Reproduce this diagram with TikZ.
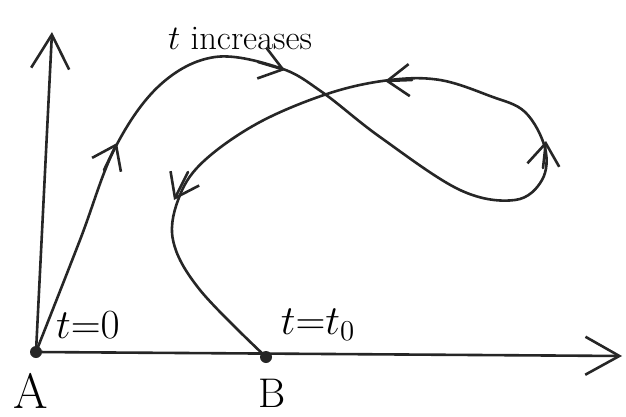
\documentclass[tikz,border=0pt]{standalone}
\usetikzlibrary{arrows.meta}
\tikzset{
  sketch/.style={line width=1.3pt, draw=black!85, line cap=round, line join=round},
  barb/.style={sketch, -{Straight Barb[length=11pt,width=16pt,line width=1.3pt]}},
  axis/.style={sketch, -{Straight Barb[length=17pt,width=19pt,line width=1.3pt]}},
  lbl/.style={font=\LARGE, inner sep=1pt},
  dot/.style={circle, fill=black!85, inner sep=0pt, minimum size=6pt},
}
\begin{document}
\begin{tikzpicture}[x=0.5pt,y=-0.5pt]
  \useasboundingbox (0,0) rectangle (626,417);

  % Points on the axis
  \node[dot] (A) at (36,352) {};
  \node[dot] (B) at (266,357) {};
  \coordinate (ytip) at (52,32);
  \coordinate (xtip) at (622,356);

  % Axes
  \draw[axis] (A.center) -- (ytip);
  \draw[axis] (A.center) -- (xtip);

  % Path from A to B
  \draw[sketch] plot[smooth, tension=0.6] coordinates {(A.center) (80,240) (115,148) (160,85)
    (215,57) (280,68) (322,92) (380,137) (460,190) (515,200) (542,180) (545,148) (525,112)
    (490,96) (440,80) (390,80) (330,93) (260,122) (205,160) (180,195) (173,240) (200,290) (B.center)};

  % Direction marks
  \draw[barb] (104,170) -- (117,143);
  \draw[barb] (258,62) -- (285,70);
  \draw[barb] (543,168) -- (546,141);
  \draw[barb] (412,80) -- (385,81);
  \draw[barb] (188,172) -- (174,200);

  % Labels
  \node[lbl] (inc) at (240,38) {$t$ increases};
  \node[lbl, font=\huge] (t0) at (88,325) {$t{=}0$};
  \node[lbl, font=\huge] (tB) at (318,325) {$t{=}t_0$};
  \node[lbl, font=\Huge] (lA) at (31,391) {A};
  \node[lbl, font=\huge] (lB) at (272,393) {B};
\end{tikzpicture}
\end{document}
